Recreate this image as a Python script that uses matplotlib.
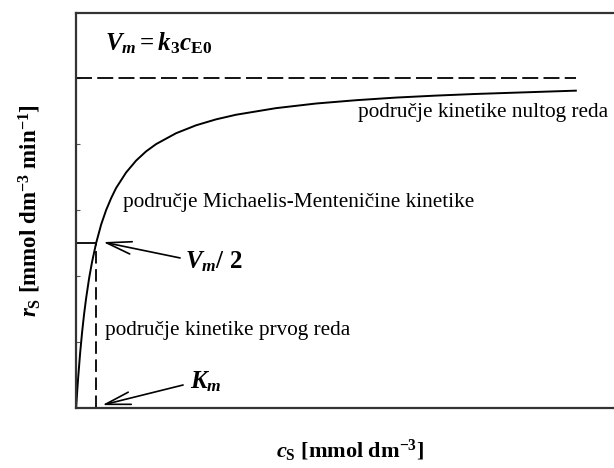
import matplotlib
matplotlib.use("Agg")
import matplotlib.pyplot as plt

plt.rcParams['font.family'] = ['Liberation Serif', 'DejaVu Serif']
plt.rcParams['mathtext.fontset'] = 'custom'
plt.rcParams['mathtext.rm'] = 'Liberation Serif:bold'
plt.rcParams['mathtext.it'] = 'Liberation Serif:italic:bold'
plt.rcParams['mathtext.bf'] = 'Liberation Serif:bold'
plt.rcParams['lines.scale_dashes'] = False

# Michaelis-Menten curve (Vm = 1, Km = 1)
cs = [0, 0.05, 0.1, 0.2, 0.3, 0.4, 0.5, 0.65, 0.8, 1.0, 1.25, 1.5, 1.75, 2.0, 2.5, 3.0,
      3.5, 4.0, 5.0, 6.0, 7.0, 8.0, 10.0, 12.0, 14.0, 16.0, 18.0, 20.0, 22.5, 25.0]
rs = [0, 0.048, 0.091, 0.167, 0.231, 0.286, 0.333, 0.394, 0.444, 0.5, 0.556, 0.6, 0.636,
      0.667, 0.714, 0.75, 0.778, 0.8, 0.833, 0.857, 0.875, 0.889, 0.909, 0.923, 0.933,
      0.941, 0.947, 0.952, 0.957, 0.962]
vm = 1.0
km = 1.0
cs_end = 25.0
yticks = [0.2, 0.4, 0.6, 0.8, 1.0]

fig = plt.figure(figsize=(6.14, 4.68), dpi=100)
ax = fig.add_axes([0.124, 0.128, 0.892, 0.844])
ax.set_xlim(0, 27.4)
ax.set_ylim(0, 1.197)

ax.plot(cs, rs, color='black', lw=1.4)
ax.plot([0, cs_end], [vm, vm], color='black', lw=1.3, dashes=(11.5, 3.8))
ax.plot([0, km], [vm / 2, vm / 2], color='black', lw=1.3)
ax.plot([km, km], [0, vm / 2], color='black', lw=1.3, dashes=(9, 4))

for s in ax.spines.values():
    s.set_linewidth(1.6)
    s.set_color('#333333')
ax.set_xticks([])
ax.set_yticks(yticks)
ax.set_yticklabels([])
ax.tick_params(axis='y', direction='in', length=3, width=0.8, color='#555555')

ax.text(1.45, 1.106, r'$V_m = k_3c_{\mathrm{E0}}$', fontsize=18, ha='left', va='center')
ax.text(14.1, 0.882, 'područje kinetike nultog reda', fontsize=15.3, ha='left', va='baseline')
ax.text(2.35, 0.609, 'područje Michaelis-Menteničine kinetike', fontsize=15.3, ha='left', va='baseline')
ax.text(1.45, 0.221, 'područje kinetike prvog reda', fontsize=15.3, ha='left', va='baseline')

arrow = dict(arrowstyle='->, head_length=1.8, head_width=0.45', color='black', lw=1.2,
             shrinkA=0, shrinkB=0, mutation_scale=10)
ax.annotate('', xy=(1.35, 0.503), xytext=(5.2, 0.455), arrowprops=arrow)
ax.annotate('', xy=(1.3, 0.009), xytext=(5.35, 0.07), arrowprops=arrow)
ax.text(5.45, 0.424, r'$V_m$/ 2', fontsize=18, fontweight='bold', ha='left', va='baseline')
ax.text(5.7, 0.06, r'$K_m$', fontsize=18, ha='left', va='baseline')

ax.set_ylabel(r'$r_\mathrm{S}$ [mmol dm$^{\mathrm{-3}}$ min$^{\mathrm{-1}}$]', fontsize=16.5, fontweight='bold')
ax.yaxis.set_label_coords(-0.06, 0.5)
ax.set_xlabel(r'$c_\mathrm{S}$ [mmol dm$^{\mathrm{-3}}$]', fontsize=16, fontweight='bold')
ax.xaxis.set_label_coords(0.5, -0.075)

plt.savefig('out.png', dpi=100, facecolor='white')
